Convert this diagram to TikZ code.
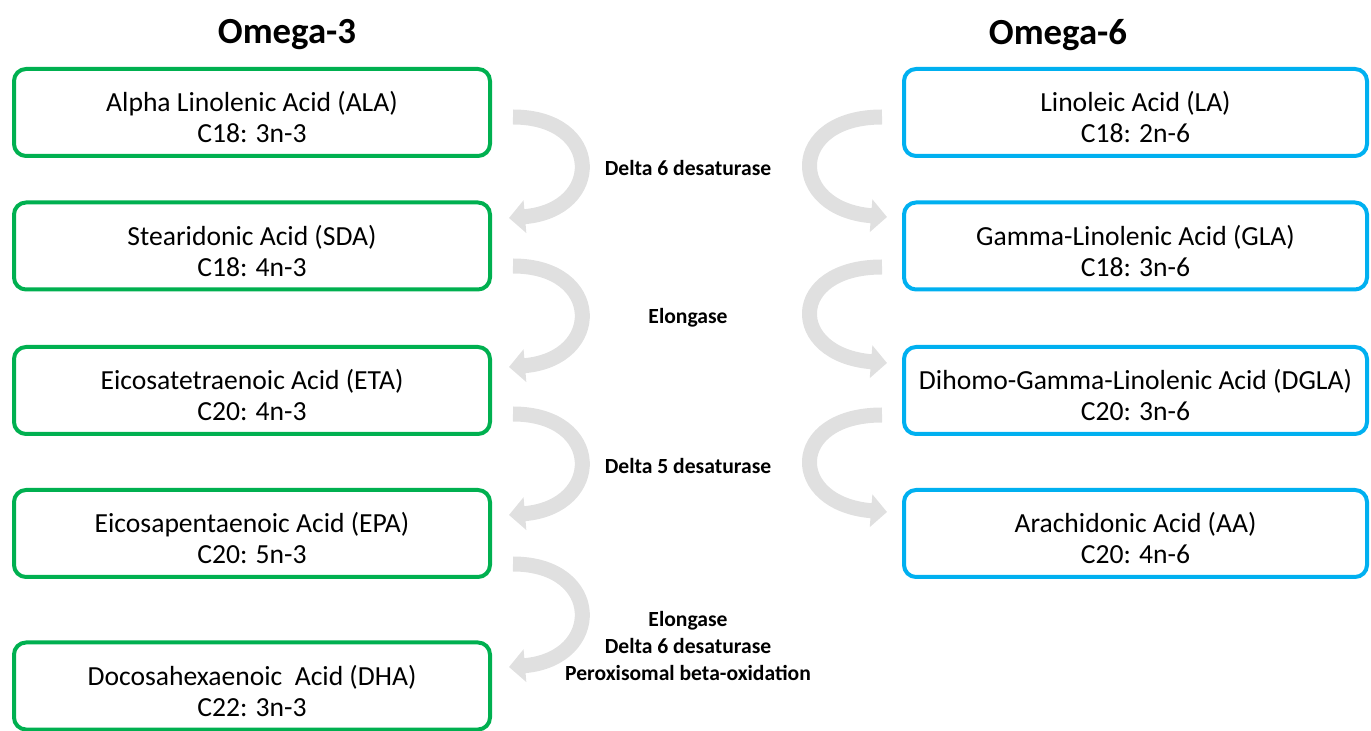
\documentclass[tikz,border=0pt]{standalone}
\usepackage{fontspec}
\setmainfont{Carlito}
\usepackage{xcolor}
\usetikzlibrary{arrows.meta,positioning}

\definecolor{omgreen}{HTML}{00B050}
\definecolor{omblue}{HTML}{00B0F0}
\definecolor{convgray}{HTML}{E0E0E0}

\begin{document}
\begin{tikzpicture}[x=0.5pt, y=-0.5pt,
    acid/.style={draw, line width=2pt, rounded corners=6pt, minimum height=43.5pt, inner ysep=2pt,
        align=center, font=\fontsize{13.8}{15.5}\selectfont, text height=34pt, text depth=3.5pt},
    threebox/.style={acid, draw=omgreen, minimum width=238pt},
    sixbox/.style={acid, draw=omblue, minimum width=231.5pt},
    series/.style={font=\fontsize{18.4}{22}\selectfont\bfseries},
    enzyme/.style={align=center, font=\fontsize{10.8}{13.3}\selectfont\bfseries},
    conv/.style={draw=convgray, line width=7.5pt, -{Triangle[width=16pt, length=8pt]}}]
        \useasboundingbox (0,0) rectangle (1371,731);

        % omega-3 column
        \node[series] (om3) at (287,35) {Omega-3};
        \node[threebox] (ala) at (252,112.5) {Alpha Linolenic Acid (ALA)\\C18: 3n-3};
        \node[threebox] (sda) at (252,246) {Stearidonic Acid (SDA)\\C18: 4n-3};
        \node[threebox] (eta) at (252,390.5) {Eicosatetraenoic Acid (ETA)\\C20: 4n-3};
        \node[threebox] (epa) at (252,533.5) {Eicosapentaenoic Acid (EPA)\\C20: 5n-3};
        \node[threebox] (dha) at (252,686) {Docosahexaenoic\ \ Acid (DHA)\\C22: 3n-3};

        % omega-6 column
        \node[series] (om6) at (1058,35) {Omega-6};
        \node[sixbox] (la) at (1135.5,112.5) {Linoleic Acid (LA)\\C18: 2n-6};
        \node[sixbox] (gla) at (1135.5,246) {Gamma-Linolenic Acid (GLA)\\C18: 3n-6};
        \node[sixbox] (dgla) at (1135.5,390.5) {Dihomo-Gamma-Linolenic Acid (DGLA)\\C20: 3n-6};
        \node[sixbox] (aa) at (1135.5,533.5) {Arachidonic Acid (AA)\\C20: 4n-6};

        % enzymes
        \node[enzyme] (d6) at (688,168) {Delta 6 desaturase};
        \node[enzyme] (elo) at (688,318) {Elongase};
        \node[enzyme] (d5) at (688,466) {Delta 5 desaturase};
        \node[enzyme] (last) at (688,646) {Elongase\\Delta 6 desaturase\\Peroxisomal beta-oxidation};

        % conversion arrows
        \draw[conv] ([shift={(21,4.5)}]ala.east) .. controls +(90,0) and +(95,-8) .. ([shift={(17,-28)}]sda.east);
        \draw[conv] ([shift={(21,20)}]sda.east) .. controls +(90,0) and +(95,-8) .. ([shift={(17,-23.5)}]eta.east);
        \draw[conv] ([shift={(21,23.5)}]eta.east) .. controls +(90,0) and +(95,-8) .. ([shift={(17,-18.5)}]epa.east);
        \draw[conv] ([shift={(21,30.5)}]epa.east) .. controls +(90,0) and +(95,-8) .. ([shift={(17,-19)}]dha.east);

        \draw[conv] ([shift={(-20,4.5)}]la.west) .. controls +(-95,0) and +(-100,-8) .. ([shift={(-15,-29)}]gla.west);
        \draw[conv] ([shift={(-20,21)}]gla.west) .. controls +(-95,0) and +(-100,-8) .. ([shift={(-15,-27.5)}]dgla.west);
        \draw[conv] ([shift={(-20,24.5)}]dgla.west) .. controls +(-95,0) and +(-100,-8) .. ([shift={(-15,-21.5)}]aa.west);
    \end{tikzpicture}
\end{document}
